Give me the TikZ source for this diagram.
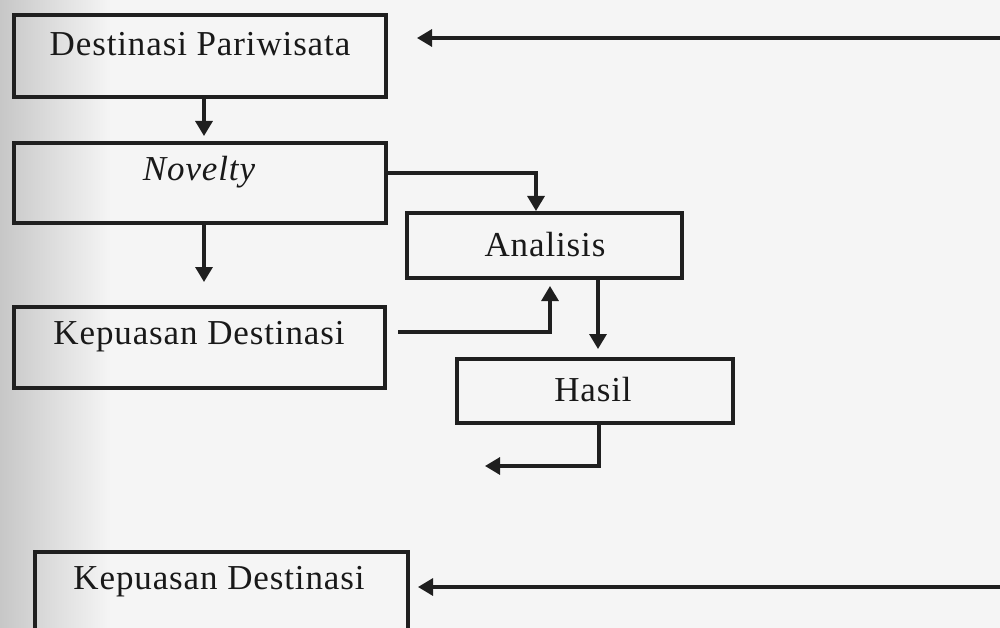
\documentclass[tikz,border=0pt]{standalone}
\usepackage{fontspec}
\setmainfont{Liberation Serif}[LetterSpace=2.5]
\usetikzlibrary{arrows.meta}
\begin{document}
\begin{tikzpicture}[x=1pt,y=-1pt,
  box/.style={draw=black!88,line width=3.2pt,rectangle,inner sep=0pt},
  lbl/.style={font=\fontsize{35}{40}\selectfont,text=black!90,inner sep=0pt},
  conn/.style={draw=black!88,line width=3.2pt,-{Triangle[length=15pt,width=17pt]}}]
\useasboundingbox (0,0) rectangle (1000,628);
\fill[black!4] (0,0) rectangle (1000,628);
\shade[left color=black!22,right color=black!4] (0,0) rectangle (110,628);
\begin{scope}
\clip (0,0) rectangle (1000,628);
% boxes
\node[box,minimum width=372pt,minimum height=82pt] (b1) at (200,56) {};
\node[box,minimum width=372pt,minimum height=80pt] (b2) at (200,183) {};
\node[box,minimum width=371pt,minimum height=81pt] (b3) at (199.5,347.5) {};
\node[box,minimum width=275pt,minimum height=65pt] (ana) at (544.5,245.5) {};
\node[box,minimum width=276pt,minimum height=64pt] (has) at (595,391) {};
\node[box,minimum width=373pt,minimum height=120pt] (b4) at (221.5,612) {};
% labels
\node[lbl] (t1) at (200,44) {Destinasi Pariwisata};
\node[lbl] (t2) at (199,172) {\itshape Novelty};
\node[lbl] (t3) at (199,337) {Kepuasan Destinasi};
\node[lbl] (t4) at (545,245) {Analisis};
\node[lbl] (t5) at (593,390) {Hasil};
\node[lbl] (t6) at (219,582) {Kepuasan Destinasi};
% free ends
\coordinate (e1) at (204,136);
\coordinate (e2) at (204,282);
\coordinate (n1) at (536,173);
\coordinate (e3) at (536,211);
\coordinate (s1) at (398,332);
\coordinate (s2) at (550,332);
\coordinate (e4) at (550,286);
\coordinate (e5) at (598,349);
\coordinate (h1) at (599,466);
\coordinate (e6) at (485,466);
\coordinate (r1) at (1010,38);
\coordinate (e7) at (417,38);
\coordinate (r2) at (1010,587);
\coordinate (e8) at (418,587);
% connectors
\draw[conn] (b1.south -| e1) -- (e1);
\draw[conn] (b2.south -| e2) -- (e2);
\draw[conn] (b2.east |- n1) -- (n1) -- (e3);
\draw[conn] (s1) -- (s2) -- (e4);
\draw[conn] (ana.south -| e5) -- (e5);
\draw[conn] (has.south -| h1) -- (h1) -- (e6);
\draw[conn] (r1) -- (e7);
\draw[conn] (r2) -- (e8);
\end{scope}
\end{tikzpicture}
\end{document}
